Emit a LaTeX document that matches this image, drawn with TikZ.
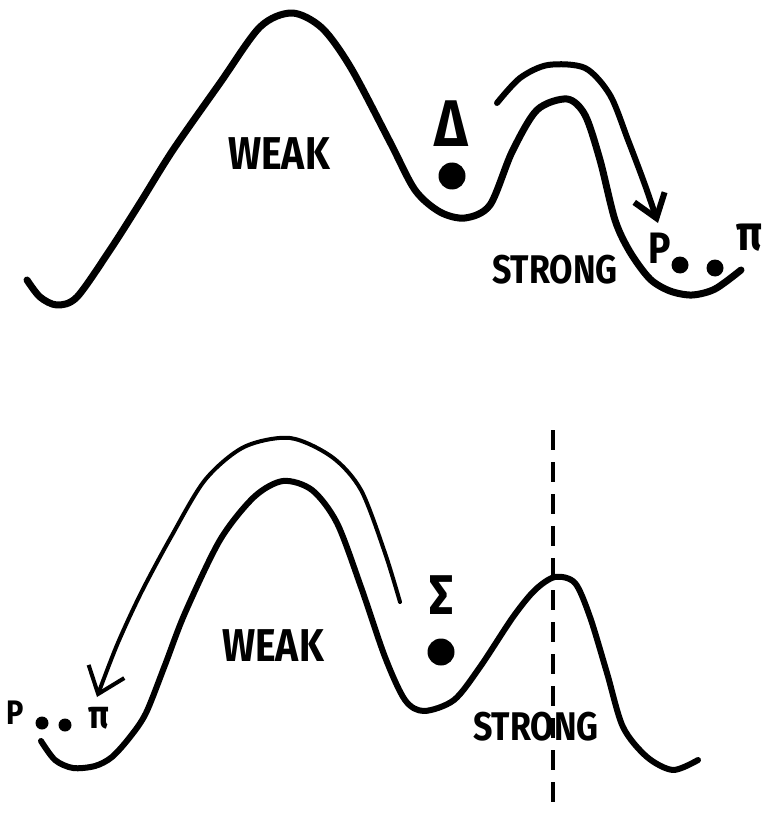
\documentclass[tikz,border=0pt]{standalone}
\usepackage{fontspec}
\newfontfamily\handfont[FakeStretch=0.85]{Fira Sans}
\usetikzlibrary{arrows.meta}
\tikzset{
  landscape/.style={
    line width=7pt,
    line cap=round,
    line join=round
  },
  tag/.style={
    font=\handfont\bfseries\fontsize{46}{46}\selectfont,
    inner sep=0pt
  },
  ion/.style={
    font=\handfont\bfseries\fontsize{40}{40}\selectfont,
    inner sep=0pt
  },
  ball/.style={
    circle,
    fill=black,
    inner sep=0pt,
    minimum size=27pt
  },
  pebble/.style={
    circle,
    fill=black,
    inner sep=0pt,
    minimum size=17pt
  },
  flow/.style={
    line width=6pt,
    line cap=round,
    -{Straight Barb[length=22pt, width=32pt]}
  },
  cut/.style={
    line width=4pt,
    dash pattern=on 20pt off 12pt
  }
}

\begin{document}
\begin{tikzpicture}[x=1pt, y=-1pt]
\useasboundingbox (0,0) rectangle (766,813);

% --- Upper landscape ---
\draw[landscape] plot[smooth] coordinates {
  (27,280) (40,297) (57,305) (77,297) (110,250) (140,203) (173,150)
  (220,83) (260,27) (292,13) (322,28) (351,68) (390,142) (415,190)
  (440,212) (465,218) (490,205) (512,152) (537,110) (567,99) (585,115)
  (600,160) (615,220) (630,252) (650,279) (670,291) (692,295)
  (715,289) (741,270)};

\node[tag] (weakA) at (279,154) {WEAK};
\node[tag, font=\handfont\bfseries\fontsize{40}{40}\selectfont] (strongA) at (555,270) {STRONG};
\node[tag, font=\handfont\bfseries\fontsize{66}{66}\selectfont] (deltaA) at (451,124) {Δ};
\node[ball] (ballA) at (452,176) {};

% --- Products after the jump ---
\node[ion, font=\handfont\bfseries\fontsize{44}{44}\selectfont] (pA) at (660,248) {P};
\node[pebble] (dotPA) at (680,265) {};
\node[pebble] (dotPiA) at (715,268) {};
\node[ion, font=\handfont\bfseries\fontsize{50}{50}\selectfont] (piA) at (749,238) {π};

\coordinate (jumpA) at (497,103);
\coordinate (landA) at (658,223);
\draw[flow] plot[smooth] coordinates {
  (jumpA) (520,78) (548,65) (585,68) (610,95) (628,140) (645,185) (landA)};

% --- Lower landscape ---
\draw[landscape, line width=6pt] plot[smooth] coordinates {
  (41,741) (55,760) (73,768) (95,766) (112,757) (130,737) (146,713)
  (165,665) (185,613) (220,540) (254,497) (283,481) (312,490)
  (337,523) (361,587) (385,657) (405,700) (424,711) (454,700)
  (480,667) (513,617) (535,590) (555,577) (575,583) (590,617)
  (607,673) (623,727) (647,757) (673,770) (698,760)};

\node[tag] (weakB) at (273,646) {WEAK};
\node[tag, font=\handfont\bfseries\fontsize{40}{40}\selectfont] (strongB) at (536,727) {STRONG};
\node[tag, font=\handfont\bfseries\fontsize{56}{56}\selectfont] (sigmaB) at (441,595) {Σ};
\node[ball] (ballB) at (441,652) {};

% --- Products after the long way round ---
\node[ion, font=\handfont\bfseries\fontsize{34}{34}\selectfont] (pB) at (15,713) {P};
\node[pebble, minimum size=13pt] (dotPB) at (42,723) {};
\node[pebble, minimum size=13pt] (dotPiB) at (65,725) {};
\node[ion] (piB) at (99,718) {π};

\coordinate (jumpB) at (400,602);
\coordinate (landB) at (97,697);
\draw[flow, line width=4pt, -{Straight Barb[length=24pt, width=38pt]}]
  plot[smooth] coordinates {
  (jumpB) (385,553) (361,490) (332,457) (290,438) (244,447) (205,480)
  (171,537) (141,593) (117,645) (landB)};

% --- Cut at the small barrier ---
\coordinate (cutTop) at (553,430);
\coordinate (cutBottom) at (553,808);
\draw[cut] (cutTop) -- (cutBottom);

\end{tikzpicture}
\end{document}
